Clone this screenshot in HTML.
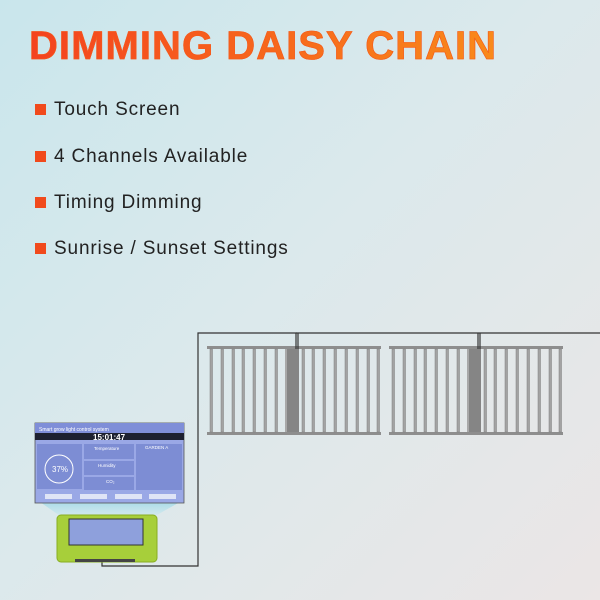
<!DOCTYPE html>
<html><head><style>
body{margin:0;width:600px;height:600px;overflow:hidden;background:linear-gradient(135deg,#c9e6ec 0%,#dbe9ec 45%,#ebe6e6 100%);font-family:"Liberation Sans",sans-serif;position:relative}
h1{position:absolute;left:29px;top:24px;margin:0;font-size:40px;font-weight:900;letter-spacing:1.05px;background:linear-gradient(90deg,#f4421f,#f98a1a);-webkit-background-clip:text;color:transparent;-webkit-text-stroke:0.6px #f55a1c}
.b{position:absolute;left:35px;font-size:19px;color:#222;letter-spacing:0.85px}
.b:before{content:"";position:absolute;left:0;top:5px;width:11px;height:11px;background:#f14a1c}
.b span{margin-left:19px}
</style></head><body>
<h1>DIMMING DAISY CHAIN</h1>
<div class="b" style="top:99px"><span>Touch Screen</span></div>
<div class="b" style="top:146px"><span>4 Channels Available</span></div>
<div class="b" style="top:192px"><span>Timing Dimming</span></div>
<div class="b" style="top:238px"><span>Sunrise / Sunset Settings</span></div>
<svg width="600" height="600" style="position:absolute;left:0;top:0">
<defs>
<g id="fx">
<rect x="0" y="26" width="174" height="3" fill="#8e8e8e"/>
<rect x="0" y="112" width="174" height="3" fill="#8e8e8e"/>
<g fill="#a3a3a3" stroke="#7f7f7f" stroke-width="0.5">
<rect x="3" y="29" width="2.5" height="83"/><rect x="14" y="29" width="2.5" height="83"/><rect x="25" y="29" width="2.5" height="83"/><rect x="35" y="29" width="2.5" height="83"/><rect x="46" y="29" width="2.5" height="83"/><rect x="57" y="29" width="2.5" height="83"/><rect x="68" y="29" width="2.5" height="83"/>
<rect x="95" y="29" width="2.5" height="83"/><rect x="105" y="29" width="2.5" height="83"/><rect x="116" y="29" width="2.5" height="83"/><rect x="127" y="29" width="2.5" height="83"/><rect x="138" y="29" width="2.5" height="83"/><rect x="149" y="29" width="2.5" height="83"/><rect x="160" y="29" width="2.5" height="83"/><rect x="170" y="29" width="2.5" height="83"/>
</g>
<rect x="80" y="29" width="12" height="83" fill="#858585"/>
<rect x="78" y="29" width="2" height="83" fill="#a8a8a8"/>
</g>
<linearGradient id="beam" x1="0" y1="0" x2="0" y2="1"><stop offset="0" stop-color="#a9dbe8"/><stop offset="1" stop-color="#d2ebf0" stop-opacity="0.5"/></linearGradient>
</defs>
<use href="#fx" x="207" y="320"/>
<use href="#fx" x="389" y="320"/>
<g stroke="#333" stroke-width="1.2" fill="none">
<path d="M102 562 V566 H198 V333 H296 V349"/>
<path d="M298 333 V349 M296 333 H478 V349 M480 333 V349 M478 333 H600"/>
</g>
<polygon points="40,502 180,502 148,520 66,520" fill="url(#beam)"/>
<rect x="35" y="423" width="149" height="80" fill="#9aa8e6" stroke="#555" stroke-width="0.8"/>
<rect x="35" y="423" width="149" height="10" fill="#7f8ed8"/>
<text x="39" y="431" font-size="5" fill="#fff">Smart grow light control system</text>
<rect x="35" y="433" width="149" height="7" fill="#1d2030"/>
<text x="93" y="440" font-size="8" font-weight="bold" fill="#fff">15:01:47</text>
<rect x="37" y="444" width="45" height="45" fill="#7d8dd4"/>
<circle cx="59" cy="469" r="14" fill="none" stroke="#fff" stroke-width="1"/>
<text x="52" y="472" font-size="8" fill="#fff">37%</text>
<rect x="84" y="444" width="50" height="15" fill="#7d8dd4"/>
<rect x="84" y="461" width="50" height="14" fill="#7d8dd4"/>
<rect x="84" y="477" width="50" height="13" fill="#7d8dd4"/>
<rect x="136" y="444" width="46" height="46" fill="#7d8dd4"/>
<text x="94" y="450" font-size="4.5" fill="#fff">Temperature</text>
<text x="98" y="467" font-size="4.5" fill="#fff">Humidity</text>
<text x="106" y="483" font-size="4.5" fill="#fff">CO₂</text>
<text x="145" y="449" font-size="4.5" fill="#fff">GARDEN A</text>
<rect x="45" y="494" width="27" height="5" fill="#dfe4f6"/><rect x="80" y="494" width="27" height="5" fill="#dfe4f6"/><rect x="115" y="494" width="27" height="5" fill="#dfe4f6"/><rect x="149" y="494" width="27" height="5" fill="#dfe4f6"/>
<rect x="57" y="515" width="100" height="47" rx="4" fill="#a7cf3a" stroke="#88ad22"/>
<rect x="69" y="519" width="74" height="26" fill="#8ea0dc" stroke="#333"/>
<rect x="75" y="559" width="60" height="3" fill="#444"/>
</svg>
</body></html>
